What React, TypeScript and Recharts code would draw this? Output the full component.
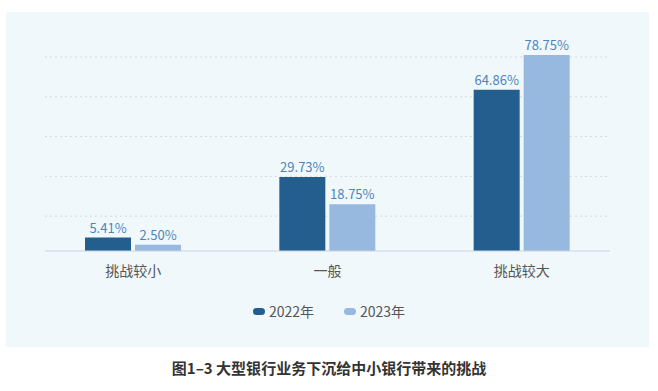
import React from "react";
import { BarChart, Bar, XAxis, YAxis, CartesianGrid, LabelList } from "recharts";

const categories = ["挑战较小", "一般", "挑战较大"];
const values2022 = [5.41, 29.73, 64.86];
const values2023 = [2.5, 18.75, 78.75];
const seriesNames = ["2022年", "2023年"];
const gridTicks = [14, 30, 46, 62, 78];

const DARK = "#245E8F";
const LIGHT = "#97B9DF";
const FONT = '"Noto Sans CJK SC", "Noto Sans", sans-serif';

const data = categories.map((name, i) => ({
  name,
  y2022: values2022[i],
  y2023: values2023[i],
}));

const fmt = (v: any) => `${Number(v).toFixed(2)}%`;

function LegendRow() {
  const items = [
    { label: seriesNames[0], color: DARK },
    { label: seriesNames[1], color: LIGHT },
  ];
  return (
    <div style={{ display: "flex", justifyContent: "center", gap: 30, fontFamily: FONT }}>
      {items.map((it) => (
        <div key={it.label} style={{ display: "flex", alignItems: "center" }}>
          <span
            style={{
              display: "inline-block",
              width: 12,
              height: 7,
              borderRadius: 4,
              background: it.color,
              marginRight: 4,
            }}
          />
          <span style={{ fontSize: 14, color: "#555", lineHeight: "20px" }}>{it.label}</span>
        </div>
      ))}
    </div>
  );
}

export default function App() {
  return (
    <div
      style={{
        position: "absolute",
        left: 0,
        top: 0,
        width: 658,
        height: 391,
        background: "#fff",
        fontFamily: FONT,
        overflow: "hidden",
      }}
    >
      <div
        style={{
          position: "absolute",
          left: 6,
          top: 12,
          width: 643,
          height: 335,
          background: "#F1F8FB",
        }}
      />
      <div style={{ position: "absolute", left: 0, top: 0 }}>
        <BarChart
          width={658}
          height={391}
          data={data}
          margin={{ top: 52, right: 48, left: 45, bottom: 110 }}
          barSize={46}
          barGap={4}
        >
          <CartesianGrid vertical={false} syncWithTicks stroke="#D3DADF" strokeDasharray="2 3" />
          <XAxis
            dataKey="name"
            height={30}
            padding={{ left: -9, right: -9 }}
            axisLine={{ stroke: "#C8D3DD" }}
            tickLine={false}
            tick={{ fill: "#555", fontSize: 14, fontFamily: FONT }}
            dy={7}
          />
          <YAxis hide domain={[0, 80]} ticks={gridTicks} />
          <Bar dataKey="y2022" name={seriesNames[0]} fill={DARK} isAnimationActive={false}>
            <LabelList
              dataKey="y2022"
              position="top"
              offset={5}
              formatter={fmt}
              style={{ fill: "#4A86BD", fontSize: 13, fontFamily: FONT }}
            />
          </Bar>
          <Bar dataKey="y2023" name={seriesNames[1]} fill={LIGHT} isAnimationActive={false}>
            <LabelList
              dataKey="y2023"
              position="top"
              offset={5}
              formatter={fmt}
              style={{ fill: "#4A86BD", fontSize: 13, fontFamily: FONT }}
            />
          </Bar>
        </BarChart>
      </div>
      <div style={{ position: "absolute", left: 0, top: 301, width: 658 }}>
        <LegendRow />
      </div>
      <div
        style={{
          position: "absolute",
          left: 0,
          top: 358,
          width: 658,
          textAlign: "center",
          fontSize: 15,
          fontWeight: 700,
          color: "#333",
          lineHeight: "20px",
        }}
      >
        图1–3 大型银行业务下沉给中小银行带来的挑战
      </div>
    </div>
  );
}
